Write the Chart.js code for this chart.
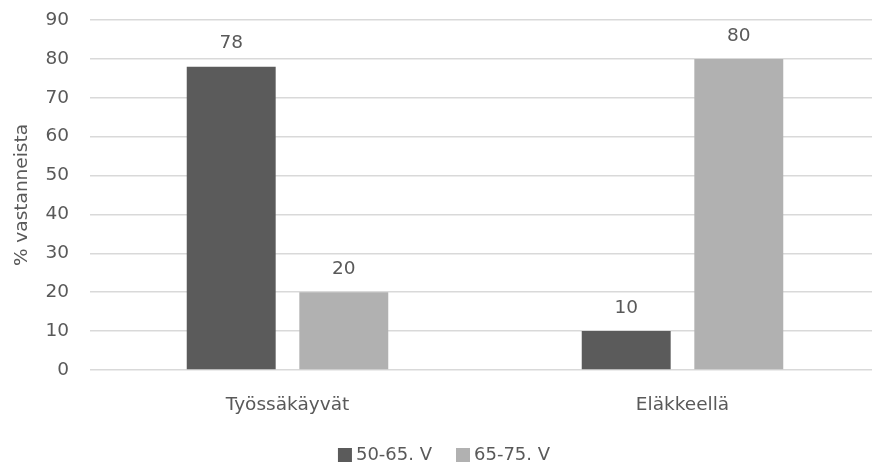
<!DOCTYPE html>
<html>
<head>
<meta charset="utf-8">
<script src="https://cdn.jsdelivr.net/npm/chart.js@4/dist/chart.umd.min.js"></script>
<style>
  html, body { margin: 0; padding: 0; background: #fff; overflow: hidden; }
  #wrap { width: 880px; height: 463px; }
</style>
</head>
<body>
<div id="wrap"><canvas id="c" width="880" height="463"></canvas></div>
<script>
const categories = ['Työssäkäyvät', 'Eläkkeellä'];
const series1Label = '50-65. V';
const series1Values = [78, 10];
const series2Label = '65-75. V';
const series2Values = [20, 80];
const yTicks = [0, 10, 20, 30, 40, 50, 60, 70, 80, 90];

const textColor = '#595959';
const fontFamily = '"DejaVu Sans", sans-serif';
const fontSize = 18.5;
const legendFontSize = 18;

// Value labels drawn above each bar
const valueLabels = {
  id: 'valueLabels',
  afterDatasetsDraw(chart) {
    const ctx = chart.ctx;
    ctx.save();
    ctx.font = fontSize + 'px ' + fontFamily;
    ctx.fillStyle = textColor;
    ctx.textAlign = 'center';
    ctx.textBaseline = 'middle';
    chart.data.datasets.forEach((ds, i) => {
      chart.getDatasetMeta(i).data.forEach((bar, j) => {
        ctx.fillText(String(ds.data[j]), bar.x, bar.y - 23);
      });
    });
    ctx.restore();
  }
};

// Compact legend centred at the bottom: square swatch, small gap, label
const bottomLegend = {
  id: 'bottomLegend',
  afterDraw(chart) {
    const ctx = chart.ctx;
    const box = 14, gapText = 4, gapItem = 24;
    ctx.save();
    ctx.font = legendFontSize + 'px ' + fontFamily;
    ctx.textBaseline = 'middle';
    ctx.textAlign = 'left';
    const items = chart.data.datasets.map(ds => ({
      text: ds.label, color: ds.backgroundColor, w: ctx.measureText(ds.label).width
    }));
    const total = items.reduce((s, it) => s + box + gapText + it.w, 0) + gapItem * (items.length - 1);
    let x = chart.width / 2 + 4 - total / 2;
    const y = chart.height - 8;
    items.forEach(it => {
      ctx.fillStyle = it.color;
      ctx.fillRect(x, y - box / 2, box, box);
      x += box + gapText;
      ctx.fillStyle = textColor;
      ctx.fillText(it.text, x, y);
      x += it.w + gapItem;
    });
    ctx.restore();
  }
};

new Chart(document.getElementById('c'), {
  type: 'bar',
  data: {
    labels: categories,
    datasets: [
      { label: series1Label, data: series1Values, backgroundColor: '#5b5b5b' },
      { label: series2Label, data: series2Values, backgroundColor: '#b1b1b1' }
    ]
  },
  options: {
    responsive: false,
    animation: false,
    devicePixelRatio: 1,
    categoryPercentage: 0.57,
    barPercentage: 0.79,
    layout: { padding: { top: 20, right: 0, bottom: 33, left: 0 } },
    plugins: {
      tooltip: { enabled: false },
      legend: { display: false }
    },
    scales: {
      x: {
        grid: { display: false },
        border: { display: false },
        afterFit(axis) { axis.height = 60; },
        ticks: {
          color: textColor,
          font: { family: fontFamily, size: fontSize },
          padding: 16
        }
      },
      y: {
        min: 0,
        max: 90,
        afterBuildTicks(axis) { axis.ticks = yTicks.map(v => ({ value: v })); },
        afterFit(axis) { axis.width = 90; },
        grid: { color: '#d9d9d9', lineWidth: 1.5, drawTicks: true, tickLength: 21, tickColor: 'rgba(0,0,0,0)' },
        border: { display: false },
        ticks: {
          color: textColor,
          font: { family: fontFamily, size: fontSize },
          padding: 0
        },
        title: {
          display: true,
          text: '% vastanneista',
          color: textColor,
          font: { family: fontFamily, size: fontSize },
          padding: { top: 11, bottom: 4 }
        }
      }
    }
  },
  plugins: [valueLabels, bottomLegend]
});
</script>
</body>
</html>
